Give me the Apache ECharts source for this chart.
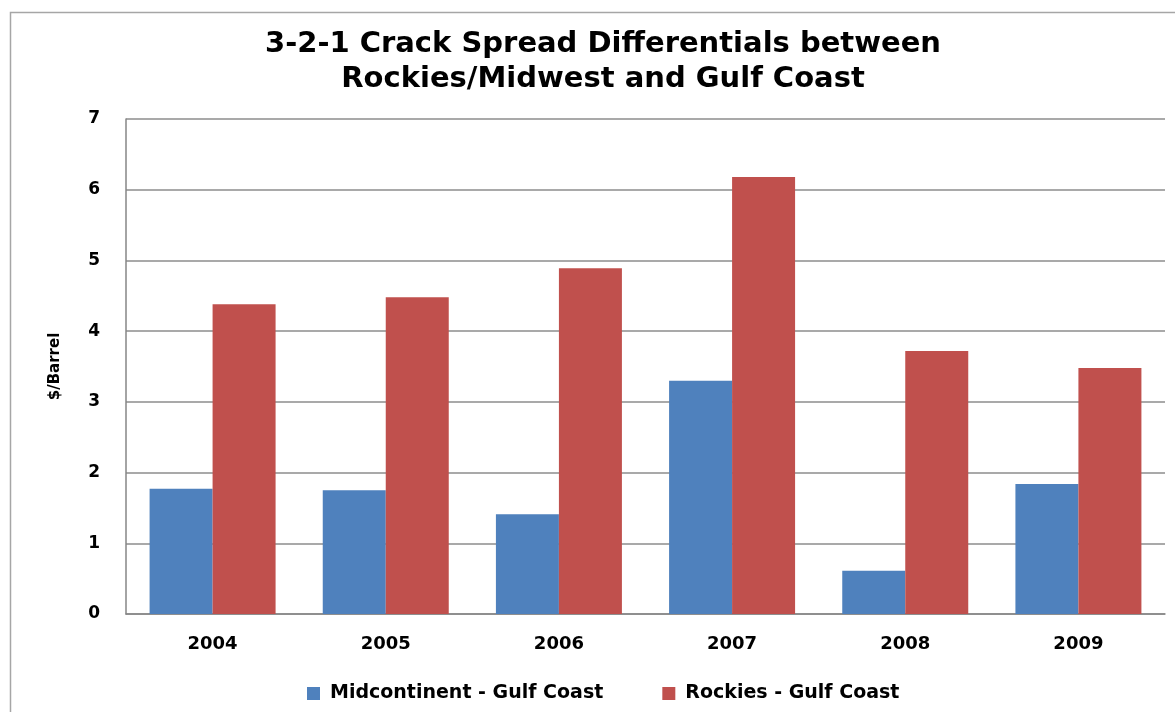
<!DOCTYPE html>
<html>
<head>
<meta charset="utf-8">
<script src="https://cdn.jsdelivr.net/npm/echarts@6/dist/echarts.min.js"></script>
<style>
  html,body{margin:0;padding:0;background:#fff;}
  #chart{width:1175px;height:712px;}
</style>
</head>
<body>
<div id="chart"></div>
<script>
  var years = ['2004', '2005', '2006', '2007', '2008', '2009']
  var midcontinent = [1.77, 1.75, 1.41, 3.30, 0.61, 1.84]
  var rockies = [4.38, 4.48, 4.89, 6.18, 3.72, 3.48]
  var yTicks = [0, 1, 2, 3, 4, 5, 6, 7]

  var font = '"DejaVu Sans", "Noto Sans", sans-serif'
  var chart = echarts.init(document.getElementById('chart'))

  var option = {
    animation: false,
    textStyle: { fontFamily: font },
    graphic: [{
      type: 'rect',
      shape: { x: 10.5, y: 12.5, width: 1300, height: 800 },
      style: { fill: 'none', stroke: '#a6a6a6', lineWidth: 1.5 },
      silent: true
    }],
    title: {
      text: '3-2-1 Crack Spread Differentials between\nRockies/Midwest and Gulf Coast',
      left: 598,
      textAlign: 'center',
      top: 22,
      textStyle: { fontFamily: font, fontSize: 29, fontWeight: 'bold', color: '#000', lineHeight: 35 }
    },
    legend: {
      top: 679,
      left: 302,
      itemWidth: 13,
      itemHeight: 13,
      itemGap: 59,
      icon: 'rect',
      textStyle: { fontFamily: font, fontSize: 19, fontWeight: 'bold', color: '#000', padding: [0, 0, 0, 5] },
      data: ['Midcontinent - Gulf Coast', 'Rockies - Gulf Coast']
    },
    grid: { left: 126, right: 10, top: 119, bottom: 98 },
    xAxis: {
      type: 'category',
      data: years,
      axisTick: { show: false },
      axisLine: { lineStyle: { color: '#868686', width: 1.5 } },
      axisLabel: { fontFamily: font, fontSize: 18, fontWeight: 'bold', color: '#000', margin: 21 }
    },
    yAxis: {
      type: 'value',
      min: yTicks[0],
      max: yTicks[yTicks.length - 1],
      interval: 1,
      name: '$/Barrel',
      nameLocation: 'middle',
      nameGap: 63,
      nameTextStyle: { fontFamily: font, fontSize: 15, fontWeight: 'bold', color: '#000' },
      axisLine: { show: true, lineStyle: { color: '#868686', width: 1.5 } },
      axisTick: { show: false },
      axisLabel: { fontFamily: font, fontSize: 17, fontWeight: 'bold', color: '#000', margin: 26 },
      splitLine: { lineStyle: { color: '#8c8c8c', width: 1.5 } }
    },
    series: [{
      name: 'Midcontinent - Gulf Coast',
      type: 'bar',
      data: midcontinent,
      barWidth: 63,
      barGap: '0%',
      itemStyle: { color: '#4f81bd' }
    }, {
      name: 'Rockies - Gulf Coast',
      type: 'bar',
      data: rockies,
      barWidth: 63,
      itemStyle: { color: '#c0504d' }
    }]
  }

  chart.setOption(option)
</script>
</body>
</html>
